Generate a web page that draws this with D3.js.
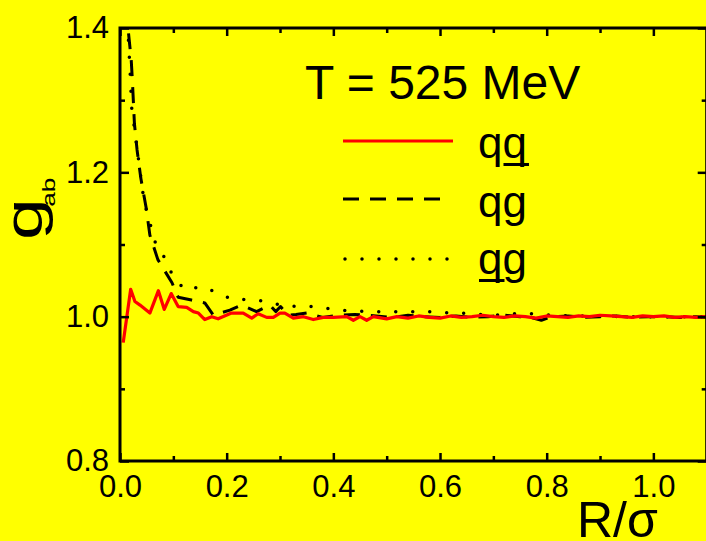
<!DOCTYPE html>
<html><head><meta charset="utf-8">
<script src="https://cdn.jsdelivr.net/npm/d3@7"></script>
<style>html,body{margin:0;padding:0;background:#ffff00;}svg{display:block;}</style>
</head><body>
<svg id="c" width="706" height="541"></svg>
<script>
// ---- data ----
const xMajorTicks = [0.0, 0.2, 0.4, 0.6, 0.8, 1.0];
const xMinorTicks = [0.1, 0.3, 0.5, 0.7, 0.9, 1.1];
const yMajorTicks = [0.8, 1.0, 1.2, 1.4];
const yMinorTicks = [0.9, 1.1, 1.3];
const title = "T = 525 MeV";
const seriesNames = ["qq̲", "qg", "q̲g"];

const qqbar = [[0.006,0.964],[0.020,1.038],[0.028,1.021],[0.0375,1.016],[0.056,1.005],[0.072,1.036],[0.083,1.010],[0.096,1.032],[0.109,1.014],[0.125,1.013],[0.1375,1.007],[0.147,1.005],[0.159,0.996],[0.172,1.000],[0.184,0.997],[0.209,1.005],[0.231,1.005],[0.247,0.998],[0.259,1.004],[0.275,0.999],[0.2875,0.999],[0.300,1.005],[0.309,1.005],[0.325,0.998],[0.344,1.000],[0.3625,0.996],[0.381,0.999],[0.400,0.999],[0.425,1.000],[0.4375,0.995],[0.450,1.000],[0.4625,0.995],[0.475,1.000],[0.500,0.997],[0.519,1.000],[0.54,0.998],[0.56,1.001],[0.58,0.999],[0.60,0.998],[0.62,1.001],[0.64,0.999],[0.66,1.000],[0.68,1.002],[0.70,1.000],[0.72,0.999],[0.74,1.001],[0.76,1.000],[0.78,0.998],[0.80,1.001],[0.82,1.000],[0.84,0.999],[0.86,1.001],[0.88,1.000],[0.90,1.002],[0.92,1.001],[0.94,1.000],[0.96,0.999],[0.98,1.001],[1.00,1.000],[1.02,1.001],[1.04,0.999],[1.06,1.000],[1.08,0.999],[1.10,1.000]];

const qg = [[0.013,1.43],[0.015,1.40],[0.021,1.356],[0.023,1.33],[0.0245,1.307],[0.027,1.268],[0.032,1.231],[0.039,1.192],[0.049,1.151],[0.056,1.113],[0.071,1.079],[0.0975,1.047],[0.109,1.027],[0.134,1.023],[0.159,1.019],[0.175,1.002],[0.206,1.009],[0.228,1.016],[0.256,1.007],[0.281,1.016],[0.292,1.007],[0.301,1.014],[0.315,1.002],[0.33,1.003],[0.35,1.005],[0.38,0.999],[0.41,1.002],[0.44,1.003],[0.48,1.001],[0.51,0.999],[0.54,1.002],[0.57,1.000],[0.60,0.999],[0.63,1.001],[0.66,0.999],[0.69,1.000],[0.72,1.002],[0.75,1.000],[0.77,0.999],[0.79,0.995],[0.81,1.000],[0.84,1.001],[0.87,0.999],[0.90,1.000],[0.93,1.001],[0.96,0.999],[0.99,1.000],[1.02,1.000],[1.05,0.999],[1.08,1.000],[1.10,0.999]];

const qbarg = [[0.013,1.43],[0.014,1.41],[0.019,1.338],[0.022,1.289],[0.034,1.222],[0.045,1.16],[0.0656,1.104],[0.084,1.081],[0.10,1.055],[0.122,1.037],[0.153,1.042],[0.186,1.032],[0.2125,1.023],[0.244,1.024],[0.275,1.021],[0.306,1.015],[0.339,1.014],[0.369,1.014],[0.401,1.010],[0.431,1.008],[0.466,1.007],[0.497,1.0069],[0.528,1.0069],[0.559,1.0069],[0.591,1.0069],[0.622,1.0046],[0.653,1.0046],[0.685,1.0023],[0.716,1.0023],[0.747,1.0046],[0.778,1.0037],[0.81,1.002],[0.85,1.001],[0.90,1.001],[0.95,1.000],[1.00,1.000],[1.05,1.000],[1.10,1.000]];

// ---- drawing ----
const FONT = "'Liberation Sans', Arial, sans-serif";
const svg = d3.select("#c");
svg.append("rect").attr("width",706).attr("height",541).attr("fill","#ffff00");

const L = 120, T = 28, B = 461;
const x = d3.scaleLinear().domain([0,1.1]).range([L, 706.7]);
const y = d3.scaleLinear().domain([0.8,1.4]).range([B, T]);

svg.append("clipPath").attr("id","clip").append("rect")
  .attr("x",L).attr("y",T).attr("width",x(1.1)-L).attr("height",B-T);

const line = d3.line().x(d=>x(d[0])).y(d=>y(d[1]));
const plot = svg.append("g").attr("clip-path","url(#clip)");

plot.append("path").datum(qbarg).attr("d",line).attr("fill","none")
  .attr("stroke","#000").attr("stroke-width",3.5).attr("stroke-dasharray","0,17")
  .attr("stroke-linecap","round").attr("stroke-linejoin","round");
plot.append("path").datum(qg).attr("d",line).attr("fill","none")
  .attr("stroke","#000").attr("stroke-width",3).attr("stroke-dasharray","16,11")
  .attr("stroke-linejoin","round");
plot.append("path").datum(qqbar).attr("d",line).attr("fill","none")
  .attr("stroke","#ff0000").attr("stroke-width",3.2).attr("stroke-linejoin","round");

function styleAxis(g){
  g.select(".domain").remove();
  g.selectAll("line").attr("stroke","#000").attr("stroke-width",2.5);
  g.selectAll("text").attr("font-family",FONT).attr("font-size",31).attr("fill","#000");
}
const fmt = d3.format(".1f");
svg.append("g").attr("transform",`translate(${L},0)`)
  .call(d3.axisLeft(y).tickValues(yMajorTicks).tickSizeInner(-9).tickSizeOuter(0).tickPadding(11).tickFormat(fmt)).call(styleAxis);
svg.append("g").attr("transform",`translate(${L},0)`)
  .call(d3.axisLeft(y).tickValues(yMinorTicks).tickSizeInner(-5).tickSizeOuter(0).tickFormat("")).call(styleAxis);
svg.append("g").attr("transform",`translate(${x(1.1)},0)`)
  .call(d3.axisRight(y).tickValues(yMajorTicks).tickSizeInner(-9).tickSizeOuter(0).tickFormat("")).call(styleAxis);
svg.append("g").attr("transform",`translate(${x(1.1)},0)`)
  .call(d3.axisRight(y).tickValues(yMinorTicks).tickSizeInner(-5).tickSizeOuter(0).tickFormat("")).call(styleAxis);
svg.append("g").attr("transform",`translate(0,${B})`)
  .call(d3.axisBottom(x).tickValues(xMajorTicks).tickSizeInner(-8).tickSizeOuter(0).tickPadding(14).tickFormat(fmt)).call(styleAxis);
svg.append("g").attr("transform",`translate(0,${B})`)
  .call(d3.axisBottom(x).tickValues(xMinorTicks).tickSizeInner(-5).tickSizeOuter(0).tickFormat("")).call(styleAxis);
svg.append("g").attr("transform",`translate(0,${T})`)
  .call(d3.axisTop(x).tickValues(xMajorTicks).tickSizeInner(-8).tickSizeOuter(0).tickFormat("")).call(styleAxis);
svg.append("g").attr("transform",`translate(0,${T})`)
  .call(d3.axisTop(x).tickValues(xMinorTicks).tickSizeInner(-5).tickSizeOuter(0).tickFormat("")).call(styleAxis);

// frame
svg.append("rect").attr("x",L).attr("y",T).attr("width",x(1.1)-L).attr("height",B-T)
  .attr("fill","none").attr("stroke","#000").attr("stroke-width",3);

// axis titles
svg.append("text").attr("x",577).attr("y",537).attr("font-family",FONT).attr("font-size",50)
  .text("R/σ");
const yl = svg.append("text").attr("transform","translate(42,240) rotate(-90) scale(1.45,1)")
  .attr("font-family",FONT);
yl.append("tspan").attr("x",0).attr("y",0).attr("font-size",52).text("g");
yl.append("tspan").attr("x",23).attr("y",13).attr("font-size",18).text("ab");

// title
svg.append("text").attr("x",305).attr("y",99).attr("font-family",FONT).attr("font-size",48).text(title);

// legend
const legY = [141, 199, 259];
const legBase = [158, 217, 274];
const lg = svg.append("g");
lg.append("line").attr("x1",343).attr("x2",453).attr("y1",legY[0]).attr("y2",legY[0])
  .attr("stroke","#ff0000").attr("stroke-width",3.2);
lg.append("line").attr("x1",343).attr("x2",443).attr("y1",legY[1]).attr("y2",legY[1])
  .attr("stroke","#000").attr("stroke-width",3).attr("stroke-dasharray","16,11");
lg.append("line").attr("x1",345).attr("x2",450).attr("y1",legY[2]).attr("y2",legY[2])
  .attr("stroke","#000").attr("stroke-width",3.5).attr("stroke-dasharray","0,17").attr("stroke-linecap","round");

// labels: letters with underline marks for antiquark
const labelParts = [["q","q"],["q","g"],["q","g"]];
const underlineIdx = [1, -1, 0];
labelParts.forEach((parts,i)=>{
  const t = lg.append("text").attr("x",478).attr("y",legBase[i]).attr("font-family",FONT).attr("font-size",44);
  const spans = parts.map(p=>t.append("tspan").text(p));
  t.append("title").text(seriesNames[i]);
  if (underlineIdx[i] >= 0) {
    const node = t.node();
    const k = underlineIdx[i];
    const start = node.getStartPositionOfChar(k).x;
    const end = node.getEndPositionOfChar(k).x;
    lg.append("line").attr("x1",start+1).attr("x2",end+2).attr("y1",legBase[i]+6.5).attr("y2",legBase[i]+6.5)
      .attr("stroke","#000").attr("stroke-width",3);
  }
});
</script>
</body></html>
